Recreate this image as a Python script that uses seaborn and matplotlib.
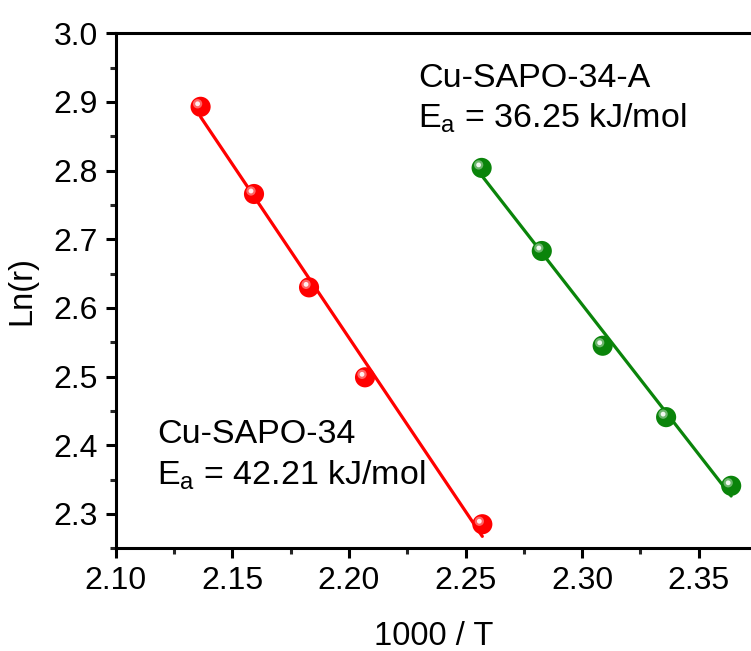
import numpy as np
import pandas as pd
import matplotlib
matplotlib.use("Agg")
import matplotlib.pyplot as plt
from matplotlib.ticker import MultipleLocator, FormatStrFormatter
from matplotlib.transforms import offset_copy
import seaborn as sns

# Data
red_x = [2.1364, 2.1593, 2.1829, 2.2069, 2.2572]
red_y = [2.893, 2.766, 2.630, 2.499, 2.285]
green_x = [2.2569, 2.2827, 2.3088, 2.3360, 2.3639]
green_y = [2.804, 2.683, 2.545, 2.441, 2.341]
red_label = ["Cu-SAPO-34", r"E$_\mathregular{a}$ = 42.21 kJ/mol"]
green_label = ["Cu-SAPO-34-A", r"E$_\mathregular{a}$ = 36.25 kJ/mol"]

sns.set_theme(style="ticks")
plt.rcParams['font.family'] = ['Liberation Sans', 'DejaVu Sans']
plt.rcParams['mathtext.fontset'] = 'custom'
plt.rcParams['mathtext.rm'] = 'Liberation Sans'
plt.rcParams['mathtext.it'] = 'Liberation Sans:italic'

fig = plt.figure(figsize=(7.51, 6.51), dpi=100)
left = 115.7 / 751
ax = fig.add_axes([left, 0.1578, 1.0 - left, 0.791])

RED = "#ff0000"
GREEN = "#0a840a"

df_r = pd.DataFrame({"x": red_x, "y": red_y})
df_g = pd.DataFrame({"x": green_x, "y": green_y})

for df, col in [(df_r, RED), (df_g, GREEN)]:
    sns.regplot(data=df, x="x", y="y", ax=ax, scatter=False, ci=None,
                color=col, line_kws={"lw": 2.3, "zorder": 2})
    sns.scatterplot(data=df, x="x", y="y", ax=ax, color=col, s=210,
                    edgecolor="none", zorder=3, legend=False)
    tr = offset_copy(ax.transData, fig=fig, x=-3, y=3, units='dots')
    ax.scatter(df["x"], df["y"], s=45, color="white", alpha=0.4,
               edgecolor="none", zorder=4, transform=tr)
    ax.scatter(df["x"], df["y"], s=12, color="white", alpha=0.9,
               edgecolor="none", zorder=5, transform=tr)

ax.set_xlim(2.10, 2.3724)
ax.set_ylim(2.25, 3.0)
ax.xaxis.set_major_locator(MultipleLocator(0.05))
ax.xaxis.set_minor_locator(MultipleLocator(0.025))
ax.yaxis.set_major_locator(MultipleLocator(0.1))
ax.yaxis.set_minor_locator(MultipleLocator(0.05))
ax.xaxis.set_major_formatter(FormatStrFormatter('%.2f'))
ax.yaxis.set_major_formatter(FormatStrFormatter('%.1f'))

for s in ax.spines.values():
    s.set_linewidth(2.2)
    s.set_color("black")
ax.spines['right'].set_visible(False)
ax.tick_params(which='major', direction='out', length=7, width=2.2,
               labelsize=23, pad=6, colors='black')
ax.tick_params(which='minor', direction='out', length=4, width=2.2)
ax.tick_params(top=False, right=False, which='both')

ax.set_xlabel("1000 / T", fontsize=23.5, labelpad=18, color='black')
ax.set_ylabel("Ln(r)", fontsize=23.5, labelpad=11, color='black')

ax.text(0.4755, 0.8957, green_label[0], transform=ax.transAxes, fontsize=24.5,
        va='baseline', ha='left', color='black')
ax.text(0.4755, 0.816, green_label[1], transform=ax.transAxes, fontsize=24.5,
        va='baseline', ha='left', color='black')
ax.text(0.065, 0.2045, red_label[0], transform=ax.transAxes, fontsize=24.5,
        va='baseline', ha='left', color='black')
ax.text(0.065, 0.123, red_label[1], transform=ax.transAxes, fontsize=24.5,
        va='baseline', ha='left', color='black')

fig.savefig("out.png", dpi=100, facecolor='white')
